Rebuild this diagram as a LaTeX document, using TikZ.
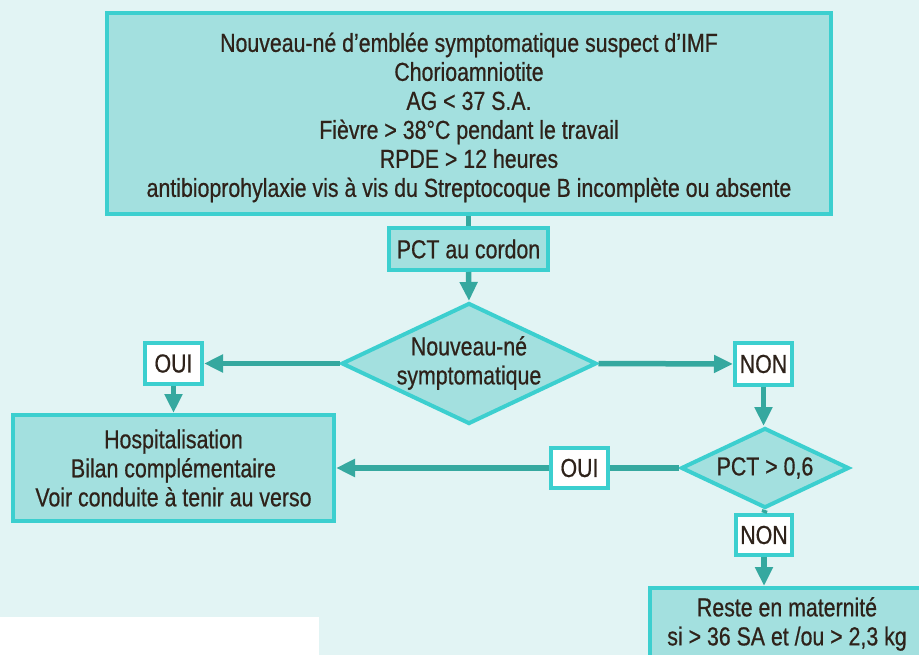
\documentclass[tikz,border=0pt]{standalone}
\usepackage{fontspec}
\setmainfont{Liberation Sans}[FakeStretch=0.82,FakeBold=0.6]
\usetikzlibrary{shapes.geometric,arrows.meta}
\definecolor{bg}{HTML}{E2F4F4}
\definecolor{boxfill}{HTML}{A3E0DF}
\definecolor{boxline}{HTML}{3CCFCF}
\definecolor{arrowc}{HTML}{35A89F}
\definecolor{txt}{HTML}{2E221A}
\begin{document}
\begin{tikzpicture}[x=1pt,y=-1pt,
  txtfont/.style={text=txt, font=\fontsize{26}{29}\selectfont, align=center},
  box/.style={draw=boxline, fill=boxfill, line width=4pt, inner sep=0pt, txtfont},
  tag/.style={box, fill=white},
  dia/.style={diamond, draw=boxline, fill=boxfill, line width=4pt, inner sep=0pt},
  lbl/.style={txtfont, inner sep=0pt},
  arr/.style={draw=arrowc, line width=5.5pt, -{Triangle[width=17pt,length=19pt]}},
  ln/.style={draw=arrowc, line width=5.5pt}]
\useasboundingbox (0,0) rectangle (919,655);
\fill[bg] (0,0) rectangle (919,655);
\fill[white] (0,617) rectangle (319,655);
\clip (0,0) rectangle (919,655);

% top box
\node[box, minimum width=724pt, minimum height=201pt] (top) at (469,114) {};
\node[lbl] (topt) at (469,117.5)
 {Nouveau-né d’emblée symptomatique suspect d’IMF\\
  Chorioamniotite\\
  AG < 37 S.A.\\
  Fièvre > 38°C pendant le travail\\
  RPDE > 12 heures\\
  antibioprohylaxie vis à vis du Streptocoque B incomplète ou absente};

\node[box, minimum width=159pt, minimum height=42pt] (pct) at (468.5,249) {PCT au cordon};

\node[dia, minimum width=255pt, minimum height=121pt] (d1) at (469,363.5) {};
\node[lbl] (d1t) at (469,363) {Nouveau-né\\symptomatique};

\node[tag, minimum width=57pt, minimum height=41pt] (oui1) at (173.5,363.5) {OUI};
\node[tag, minimum width=57pt, minimum height=42pt] (non1) at (763.5,364) {NON};

\node[box, minimum width=321pt, minimum height=106pt] (hosp) at (173.5,468)
 {Hospitalisation\\Bilan complémentaire\\Voir conduite à tenir au verso};

\node[dia, minimum width=168pt, minimum height=80pt] (d2) at (765,468) {};
\node[lbl] (d2t) at (765,468) {PCT > 0,6};

\node[tag, minimum width=57pt, minimum height=40pt] (oui2) at (579.5,468) {OUI};
\node[tag, minimum width=56pt, minimum height=40pt] (non2) at (764,535) {NON};

\node[box, minimum width=300pt, minimum height=120pt, anchor=north west] (reste) at (648,586) {};
\node[lbl] (restet) at (787,624) {Reste en maternité\\si > 36 SA et /ou > 2,3 kg};

% connectors
\draw[ln] (top.south -| pct.north) -- (pct.north);
\draw[arr] (pct.south) -- (d1.north);
\draw[arr] (d1.west) -- (oui1.east);
\draw[arr] (d1.east) -- (non1.west);
\draw[arr] (oui1.south) -- (hosp.north -| oui1.south);
\draw[arr] (non1.south) -- (d2.north -| non1.south);
\draw[ln] (d2.west) -- (oui2.east);
\draw[arr] (oui2.west) -- (hosp.east |- oui2.west);
\draw[ln] (d2.south) -- (non2.north);
\draw[arr] (non2.south) -- (reste.north -| non2.south);
\end{tikzpicture}
\end{document}
